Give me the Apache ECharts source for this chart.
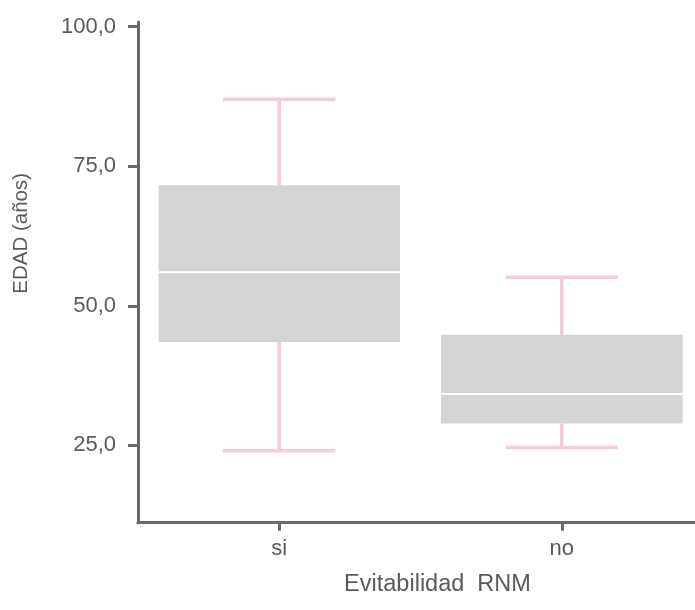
<!DOCTYPE html>
<html>
<head>
<meta charset="utf-8">
<script src="https://cdn.jsdelivr.net/npm/echarts@6/dist/echarts.min.js"></script>
<style>html,body{margin:0;padding:0;background:#fff;}#c{width:695px;height:610px;}</style>
</head>
<body>
<div id="c"></div>
<script>
var categories = ['si', 'no'];
var lowWhisker = [24.0, 24.6];
var q1Values = [43.5, 28.9];
var medianValues = [56.0, 34.2];
var q3Values = [71.6, 44.8];
var highWhisker = [87.0, 55.1];
var yTickValues = [25, 50, 75, 100];
var yAxisTitle = 'EDAD (años)';
var xAxisTitle = 'Evitabilidad  RNM';

var data = categories.map(function (c, i) {
  return [i, lowWhisker[i], q1Values[i], medianValues[i], q3Values[i], highWhisker[i]];
});

var FONT = "'Liberation Sans', Arial, sans-serif";
var TEXT = '#5a5a5a';
var AXIS = '#6a6a6a';
var PINK = '#f9c9dd';
var BOX = '#d3d4d6';

function renderItem(params, api) {
  var idx = api.value(0);
  var band = api.size([1, 0])[0];
  var boxW = band * 0.855;
  var capW = band * 0.397;
  var pLow = api.coord([idx, api.value(1)]);
  var pQ1 = api.coord([idx, api.value(2)]);
  var pMed = api.coord([idx, api.value(3)]);
  var pQ3 = api.coord([idx, api.value(4)]);
  var pHigh = api.coord([idx, api.value(5)]);
  var x = pMed[0];
  var lineStyle = { stroke: PINK, lineWidth: 3.5, fill: null };
  return {
    type: 'group',
    children: [
      { type: 'line', shape: { x1: x, y1: pHigh[1], x2: x, y2: pQ3[1] }, style: lineStyle },
      { type: 'line', shape: { x1: x, y1: pQ1[1], x2: x, y2: pLow[1] }, style: lineStyle },
      { type: 'line', shape: { x1: x - capW / 2, y1: pHigh[1], x2: x + capW / 2, y2: pHigh[1] }, style: lineStyle },
      { type: 'line', shape: { x1: x - capW / 2, y1: pLow[1], x2: x + capW / 2, y2: pLow[1] }, style: lineStyle },
      { type: 'rect', shape: { x: x - boxW / 2, y: pQ3[1], width: boxW, height: pQ1[1] - pQ3[1] }, style: { fill: BOX, stroke: null } },
      { type: 'line', shape: { x1: x - boxW / 2, y1: pMed[1], x2: x + boxW / 2, y2: pMed[1] }, style: { stroke: '#ffffff', lineWidth: 2 } }
    ]
  };
}

var chart = echarts.init(document.getElementById('c'), null, { renderer: 'canvas' });
chart.setOption({
  backgroundColor: '#ffffff',
  animation: false,
  grid: { left: 138, width: 565, top: 22, bottom: 87.3, containLabel: false, outerBoundsMode: 'none' },
  xAxis: {
    type: 'category',
    data: categories,
    boundaryGap: true,
    name: xAxisTitle,
    nameLocation: 'middle',
    nameGap: 50,
    nameTextStyle: { fontFamily: FONT, fontSize: 23.5, color: TEXT, padding: [0, 0, 0, 34] },
    axisLine: { show: true, lineStyle: { color: AXIS, width: 3 } },
    axisTick: { show: true, alignWithLabel: true, length: 8, lineStyle: { color: AXIS, width: 3 } },
    axisLabel: { fontFamily: FONT, fontSize: 22, color: TEXT, margin: 15 },
    splitLine: { show: false }
  },
  yAxis: {
    type: 'value',
    min: 11.13,
    max: 100.84,
    name: yAxisTitle,
    nameLocation: 'middle',
    nameGap: 106,
    nameTextStyle: { fontFamily: FONT, fontSize: 20.5, color: TEXT, padding: [0, 0, 0, 78] },
    axisLine: { show: true, lineStyle: { color: AXIS, width: 3 } },
    axisTick: { show: true, length: 10, customValues: yTickValues, lineStyle: { color: AXIS, width: 3 } },
    axisLabel: {
      fontFamily: FONT, fontSize: 22, color: TEXT, margin: 22,
      customValues: yTickValues,
      padding: [0, 0, 9, 0],
      formatter: function (v) { return v.toFixed(1).replace('.', ','); }
    },
    splitLine: { show: false }
  },
  series: [{
    type: 'custom',
    renderItem: renderItem,
    encode: { x: 0, y: [1, 2, 3, 4, 5] },
    data: data
  }]
});
</script>
</body>
</html>
